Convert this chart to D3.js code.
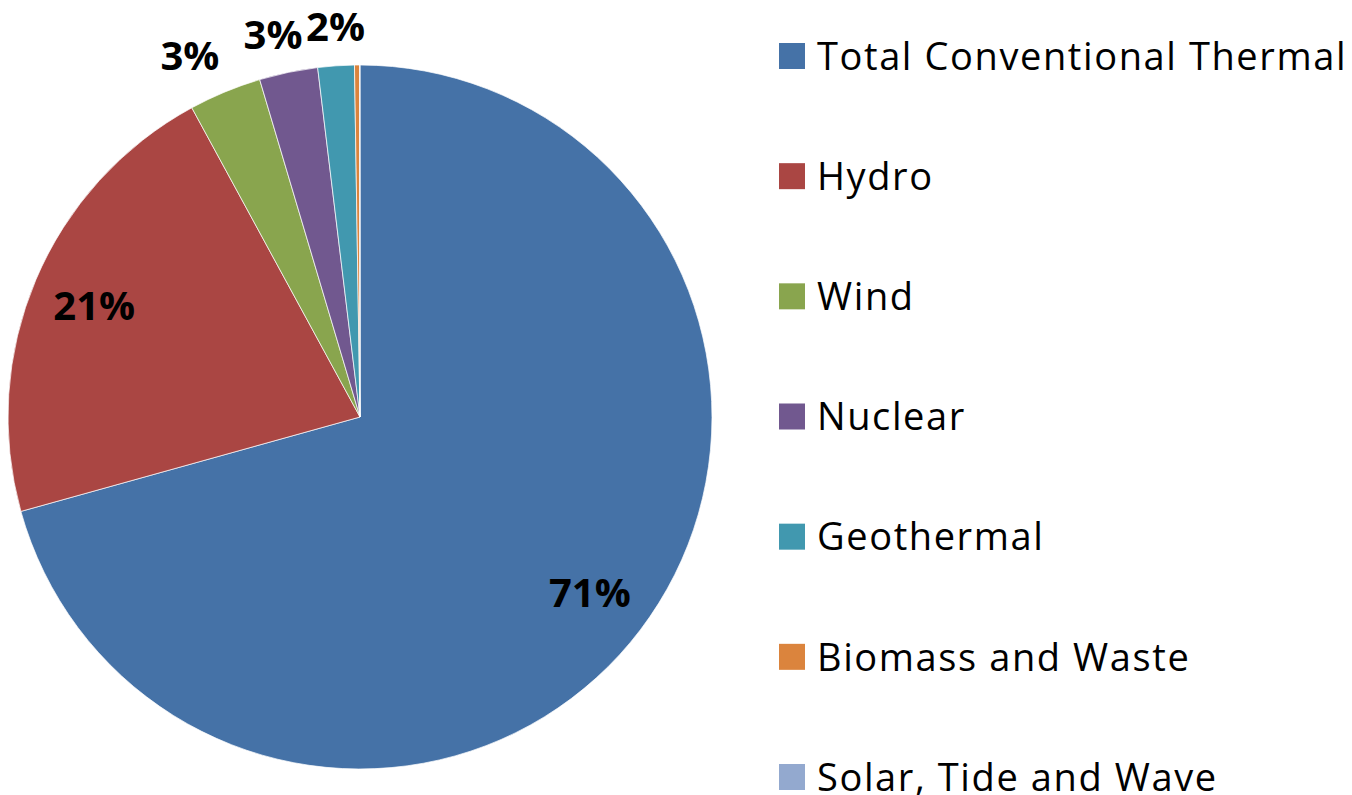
<!DOCTYPE html>
<html>
<head>
<meta charset="utf-8">
<script src="https://cdn.jsdelivr.net/npm/d3@7"></script>
<style>
  body { margin: 0; background: #fff; }
  svg { display: block; }
  .pct { font-family: "Open Sans", sans-serif; font-weight: bold; font-size: 40px; fill: #000; }
  .legend text { font-family: "Open Sans", sans-serif; font-size: 38px; letter-spacing: 1.6px; fill: #000; }
</style>
</head>
<body>
<svg id="chart" width="1352" height="795"></svg>
<script>
// share of generation by source (percent)
var sources = ["Total Conventional Thermal", "Hydro", "Wind", "Nuclear", "Geothermal", "Biomass and Waste", "Solar, Tide and Wave"];
var shares = [70.7, 21.4, 3.33, 2.68, 1.67, 0.23, 0.02];
var colors = ["#4572A7", "#AA4643", "#89A54E", "#71588F", "#4198AF", "#DB843D", "#93A9CF"];

var WIDTH = 1352, HEIGHT = 795;
var cx = 360, cy = 417, R = 352;

var svg = d3.select("#chart");

var pie = d3.pie().sort(null).value(function (d) { return d; });
var arcs = pie(shares);

var arc = d3.arc().innerRadius(0).outerRadius(R);
var inLabel = d3.arc().innerRadius(R * 0.82).outerRadius(R * 0.82);
var outLabel = d3.arc().innerRadius(R + 40).outerRadius(R + 40);

var g = svg.append("g").attr("transform", "translate(" + cx + "," + cy + ")");

g.selectAll("path")
    .data(arcs)
    .enter().append("path")
    .attr("d", arc)
    .attr("fill", function (d, i) { return colors[i]; })
    .attr("stroke", "#fff")
    .attr("stroke-width", 0.7);

/**
 * Percent labels: big slices inside, small ones outside (spread sideways a bit
 * like excel's best fit), hide the ones that round to 0
 */
g.selectAll("text.pct")
    .data(arcs.filter(function (d) { return Math.round(d.value) >= 1; }))
    .enter().append("text")
    .attr("class", "pct")
    .attr("text-anchor", "middle")
    .attr("dominant-baseline", "central")
    .attr("transform", function (d) {
        var p;
        if (d.value > 10) {
            p = inLabel.centroid(d);
        } else {
            p = outLabel.centroid(d);
            var s = Math.sin((d.startAngle + d.endAngle) / 2);
            p[0] += (s + 0.1) * 70;
        }
        return "translate(" + p[0] + "," + p[1] + ")";
    })
    .text(function (d) { return Math.round(d.value) + "%"; });

// legend
var legY = d3.scalePoint().domain(sources).range([56, 777]);

var leg = svg.append("g").attr("class", "legend")
    .selectAll("g")
    .data(sources)
    .enter().append("g")
    .attr("transform", function (d) { return "translate(779," + legY(d) + ")"; });

leg.append("rect")
    .attr("x", 0).attr("y", -13)
    .attr("width", 26).attr("height", 26)
    .attr("fill", function (d, i) { return colors[i]; });

leg.append("text")
    .attr("x", 38)
    .attr("dy", "0.36em")
    .text(function (d) { return d; });
</script>
</body>
</html>
